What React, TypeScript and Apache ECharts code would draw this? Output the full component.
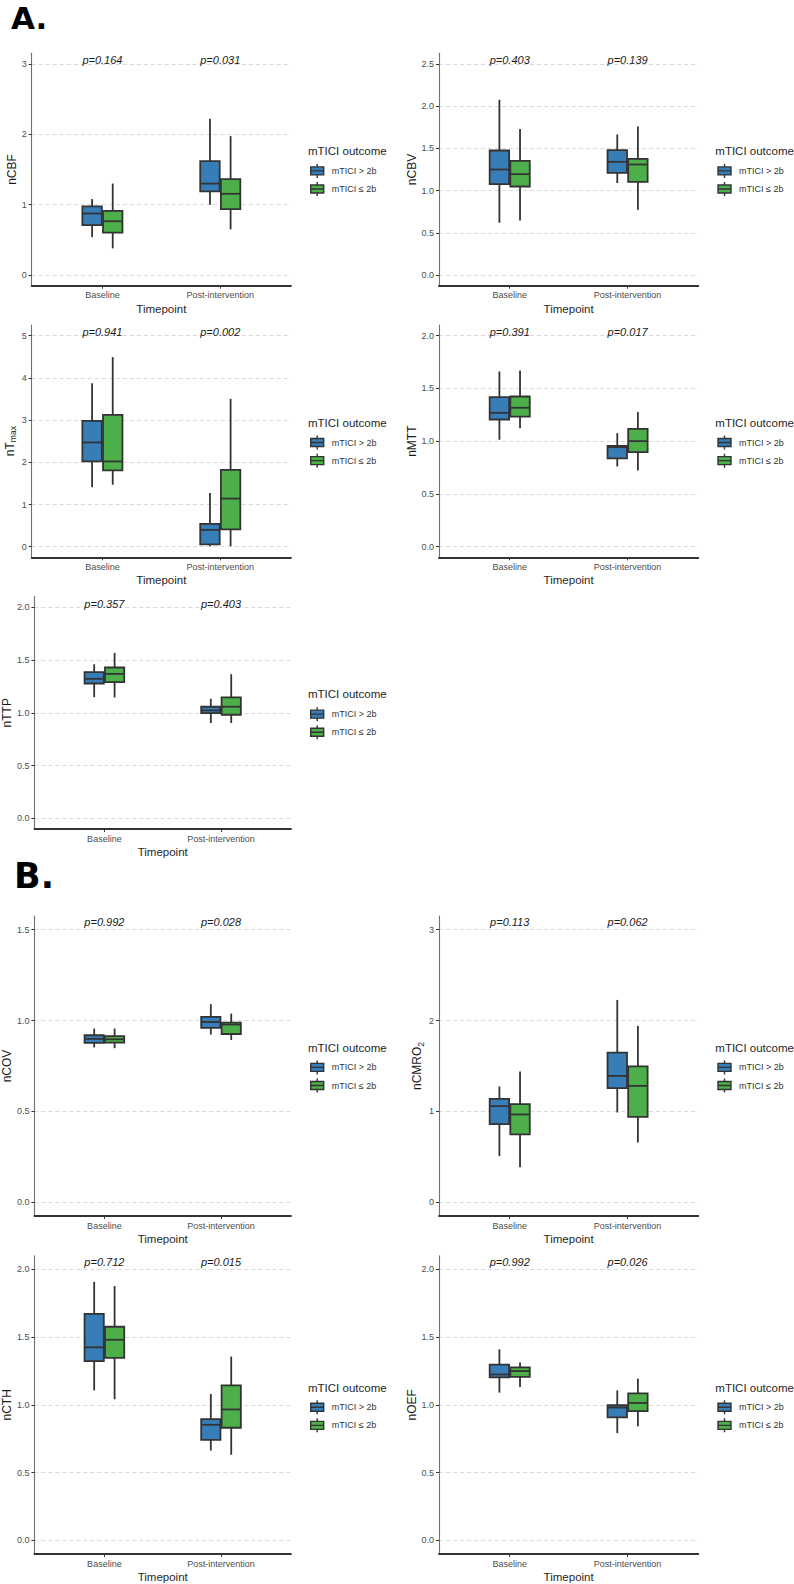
import React, { useEffect, useRef } from "react";
import * as echarts from "echarts";

// ---------- data ----------
const categories = ["Baseline", "Post-intervention"];
const groupNames = ["mTICI > 2b", "mTICI \u2264 2b"];
const groupColors = ["#377EB8", "#4DAF4A"];

// each box: [whiskerLow, Q1, median, Q3, whiskerHigh]; first Baseline, then Post-intervention
const nCBF_hi = [[0.54, 0.71, 0.875, 0.975, 1.08], [1.0, 1.19, 1.3, 1.62, 2.22]];
const nCBF_lo = [[0.38, 0.605, 0.765, 0.913, 1.3], [0.65, 0.937, 1.155, 1.364, 1.974]];
const nCBV_hi = [[0.62, 1.077, 1.25, 1.475, 2.075], [1.09, 1.211, 1.341, 1.479, 1.664]];
const nCBV_lo = [[0.646, 1.049, 1.195, 1.353, 1.728], [0.773, 1.104, 1.309, 1.376, 1.759]];
const nTmax_hi = [[1.41, 2.02, 2.47, 2.98, 3.87], [0.01, 0.055, 0.4, 0.54, 1.27]];
const nTmax_lo = [[1.47, 1.81, 2.02, 3.12, 4.49], [0.01, 0.41, 1.14, 1.82, 3.5]];
const nMTT_hi = [[1.013, 1.205, 1.268, 1.417, 1.66], [0.76, 0.836, 0.943, 0.956, 1.076]];
const nMTT_lo = [[1.123, 1.233, 1.316, 1.423, 1.669], [0.722, 0.896, 1.0, 1.117, 1.275]];
const nTTP_hi = [[1.148, 1.277, 1.321, 1.384, 1.459], [0.903, 0.997, 1.022, 1.057, 1.132]];
const nTTP_lo = [[1.145, 1.29, 1.368, 1.428, 1.566], [0.903, 0.981, 1.057, 1.145, 1.365]];
const nCOV_hi = [[0.852, 0.877, 0.899, 0.919, 0.956], [0.923, 0.96, 0.992, 1.02, 1.09]];
const nCOV_lo = [[0.848, 0.879, 0.897, 0.914, 0.956], [0.893, 0.926, 0.978, 0.989, 1.038]];
const nCMRO2_hi = [[0.509, 0.86, 1.058, 1.139, 1.275], [0.989, 1.256, 1.391, 1.648, 2.227]];
const nCMRO2_lo = [[0.385, 0.747, 0.967, 1.08, 1.44], [0.659, 0.941, 1.281, 1.495, 1.941]];
const nCTH_hi = [[1.107, 1.322, 1.424, 1.671, 1.907], [0.663, 0.741, 0.853, 0.895, 1.08]];
const nCTH_lo = [[1.041, 1.346, 1.48, 1.576, 1.876], [0.632, 0.831, 0.966, 1.144, 1.356]];
const nOEF_hi = [[1.09, 1.202, 1.224, 1.297, 1.41], [0.792, 0.907, 0.98, 0.997, 1.107]];
const nOEF_lo = [[1.131, 1.207, 1.249, 1.276, 1.312], [0.842, 0.953, 1.014, 1.085, 1.193]];

// p-values (Baseline, Post-intervention)
const p_nCBF = [0.164, 0.031];
const p_nCBV = [0.403, 0.139];
const p_nTmax = [0.941, 0.002];
const p_nMTT = [0.391, 0.017];
const p_nTTP = [0.357, 0.403];
const p_nCOV = [0.992, 0.028];
const p_nCMRO2 = [0.113, 0.062];
const p_nCTH = [0.712, 0.015];
const p_nOEF = [0.992, 0.026];

// y tick labels
const ticks_nCBF = [0, 1, 2, 3];
const ticks_nCBV = [0, 0.5, 1, 1.5, 2, 2.5];
const ticks_nTmax = [0, 1, 2, 3, 4, 5];
const ticks_nMTT = [0, 0.5, 1, 1.5, 2];
const ticks_nTTP = [0, 0.5, 1, 1.5, 2];
const ticks_nCOV = [0, 0.5, 1, 1.5];
const ticks_nCMRO2 = [0, 1, 2, 3];
const ticks_nCTH = [0, 0.5, 1, 1.5, 2];
const ticks_nOEF = [0, 0.5, 1, 1.5, 2];

// ---------- layout ----------
const FONT = "'Liberation Sans', Arial, sans-serif";
const COLS = [{ left: 31.7, width: 259.3 }, { left: 439, width: 259.3 }];
const ROWS = [
  { top: 53.3, height: 232.4, pDy: -3.5 },
  { top: 325, height: 232.3, pDy: -3.5 },
  { top: 596.5, height: 232.5, pDy: -3.5 },
  { top: 916, height: 300, pDy: -7.3 },
  { top: 1255.7, height: 300.3, pDy: -7.3 },
];

const panels = [
  { name: "nCBF", row: 0, col: 0, hi: nCBF_hi, lo: nCBF_lo, p: p_nCBF, ticks: ticks_nCBF, dec: 0 },
  { name: "nCBV", row: 0, col: 1, hi: nCBV_hi, lo: nCBV_lo, p: p_nCBV, ticks: ticks_nCBV, dec: 1 },
  { name: "{a|nT}{b|max}", row: 1, col: 0, hi: nTmax_hi, lo: nTmax_lo, p: p_nTmax, ticks: ticks_nTmax, dec: 0 },
  { name: "nMTT", row: 1, col: 1, hi: nMTT_hi, lo: nMTT_lo, p: p_nMTT, ticks: ticks_nMTT, dec: 1 },
  { name: "nTTP", row: 2, col: 0, hi: nTTP_hi, lo: nTTP_lo, p: p_nTTP, ticks: ticks_nTTP, dec: 1 },
  { name: "nCOV", row: 3, col: 0, hi: nCOV_hi, lo: nCOV_lo, p: p_nCOV, ticks: ticks_nCOV, dec: 1 },
  { name: "{a|nCMRO}{b|2}", row: 3, col: 1, hi: nCMRO2_hi, lo: nCMRO2_lo, p: p_nCMRO2, ticks: ticks_nCMRO2, dec: 0 },
  { name: "nCTH", row: 4, col: 0, hi: nCTH_hi, lo: nCTH_lo, p: p_nCTH, ticks: ticks_nCTH, dec: 1 },
  { name: "nOEF", row: 4, col: 1, hi: nOEF_hi, lo: nOEF_lo, p: p_nOEF, ticks: ticks_nOEF, dec: 1 },
];

const BOX_W = 0.165;
const DODGE = 0.0875;
const LW = 1.8;
const EDGE = "#333333";
const LEGEND_ICON = "path://M0,3H13V11H0Z M0,7H13 M6.5,0V3 M6.5,11V14";

function boxRenderer(offset: number, color: string) {
  return (params: any, api: any) => {
    const x = api.value(0);
    const v = [1, 2, 3, 4, 5].map((i) => api.value(i));
    const cx = api.coord([x + offset, v[2]])[0];
    const half = api.size([BOX_W, 0])[0] / 2;
    const y = v.map((val) => api.coord([x, val])[1]);
    const ls = { stroke: EDGE, lineWidth: LW };
    return {
      type: "group",
      children: [
        { type: "line", shape: { x1: cx, y1: y[4], x2: cx, y2: y[3] }, style: ls },
        { type: "line", shape: { x1: cx, y1: y[1], x2: cx, y2: y[0] }, style: ls },
        {
          type: "rect",
          shape: { x: cx - half, y: y[3], width: 2 * half, height: y[1] - y[3] },
          style: { fill: color, stroke: EDGE, lineWidth: LW },
        },
        { type: "line", shape: { x1: cx - half, y1: y[2], x2: cx + half, y2: y[2] }, style: ls },
      ],
    };
  };
}

function buildOption() {
  const grid: any[] = [];
  const xAxis: any[] = [];
  const yAxis: any[] = [];
  const series: any[] = [];
  const legend: any[] = [];
  const graphic: any[] = [
    {
      type: "text", x: 11, y: 18,
      style: { text: "A.", fontSize: 31, fontWeight: "bold", fontFamily: "'DejaVu Sans'", fill: "#000", verticalAlign: "middle" },
    },
    {
      type: "text", x: 14, y: 876,
      style: { text: "B.", fontSize: 35, fontWeight: "bold", fontFamily: "'DejaVu Sans'", fill: "#000", verticalAlign: "middle" },
    },
  ];

  panels.forEach((pn, i) => {
    const c = COLS[pn.col];
    const r = ROWS[pn.row];
    const top = pn.ticks[pn.ticks.length - 1];
    grid.push({ left: c.left, top: r.top, width: c.width, height: r.height, containLabel: false });
    xAxis.push({
      type: "value",
      gridIndex: i,
      min: 0.4,
      max: 2.6,
      axisLine: { show: true, onZero: false, lineStyle: { color: "#333", width: 1.8 } },
      axisTick: { show: true, length: 3, customValues: [1, 2], lineStyle: { color: "#333", width: 1 } },
      axisLabel: {
        customValues: [1, 2],
        formatter: (v: number) => categories[Math.round(v) - 1],
        fontSize: 9, color: "#4d4d4d", margin: 5, fontFamily: FONT,
      },
      splitLine: { show: false },
      name: "Timepoint",
      nameLocation: "middle",
      nameGap: 17,
      nameTextStyle: { fontSize: 11.5, color: "#262626", fontWeight: "normal", fontFamily: FONT },
    });
    yAxis.push({
      type: "value",
      gridIndex: i,
      min: -0.05 * top,
      max: 1.05 * top,
      axisLine: { show: true, onZero: false, lineStyle: { color: "#707070", width: 1.1 } },
      axisTick: { show: true, length: 3, customValues: pn.ticks, lineStyle: { color: "#333", width: 1 } },
      axisLabel: {
        customValues: pn.ticks,
        formatter: (v: number) => v.toFixed(pn.dec),
        fontSize: 9, color: "#4d4d4d", margin: 5, fontFamily: FONT,
      },
      splitLine: { show: true, lineStyle: { color: "#d9d9d9", width: 1, type: [4, 3] } },
      name: pn.name,
      nameLocation: "middle",
      nameGap: pn.dec ? 20 : 12.5,
      nameTextStyle: {
        fontSize: 12, color: "#1a1a1a", fontWeight: "normal", fontFamily: FONT,
        rich: {
          a: { fontSize: 12, color: "#1a1a1a", fontWeight: "normal", fontFamily: FONT },
          b: { fontSize: 8.5, color: "#1a1a1a", fontWeight: "normal", fontFamily: FONT, padding: [7, 0, 0, 0] },
        },
      },
    });
    [pn.hi, pn.lo].forEach((boxes, g) => {
      series.push({
        type: "custom",
        name: groupNames[g],
        xAxisIndex: i,
        yAxisIndex: i,
        itemStyle: { color: groupColors[g] },
        encode: { x: 0, y: [1, 2, 3, 4, 5] },
        renderItem: boxRenderer(g === 0 ? -DODGE : DODGE, groupColors[g]),
        data: boxes.map((b, k) => [k + 1, ...b]),
        silent: true,
      });
    });
    series.push({
      type: "custom",
      name: "pvalues" + i,
      xAxisIndex: i,
      yAxisIndex: i,
      encode: { x: 0, y: 1 },
      renderItem: (params: any, api: any) => {
        const pt = api.coord([api.value(0), api.value(1)]);
        return {
          type: "text",
          x: pt[0],
          y: pt[1] + r.pDy,
          style: {
            text: "p=" + pn.p[params.dataIndex].toFixed(3),
            align: "center",
            verticalAlign: "middle",
            fontSize: 11,
            fontStyle: "italic",
            fontWeight: "normal",
            fontFamily: FONT,
            fill: "#1a1a1a",
          },
        };
      },
      data: pn.p.map((_, k) => [k + 1, top]),
      silent: true,
    });
    const right = c.left + c.width;
    const titleY = r.top + r.height / 2 - 18.3;
    graphic.push({
      type: "text",
      x: right + 17,
      y: titleY,
      style: {
        text: "mTICI outcome", fontSize: 11.5, fontWeight: "normal", fontFamily: FONT,
        fill: "#262626", verticalAlign: "middle",
      },
    });
    legend.push({
      orient: "vertical",
      left: right + 19,
      top: titleY + 12,
      padding: 0,
      itemWidth: 13,
      itemHeight: 14,
      itemGap: 2.7,
      icon: LEGEND_ICON,
      selectedMode: false,
      data: groupNames,
      itemStyle: { borderColor: EDGE, borderWidth: 1.4 },
      textStyle: { fontSize: 9, color: "#333", fontWeight: "normal", fontFamily: FONT, padding: [0, 0, 0, 3] },
    });
  });

  return {
    animation: false,
    backgroundColor: "#ffffff",
    grid,
    xAxis,
    yAxis,
    series,
    legend,
    graphic,
  };
}

export default function App() {
  const ref = useRef<HTMLDivElement>(null);
  useEffect(() => {
    if (!ref.current) return;
    const chart = echarts.init(ref.current, null, { renderer: "svg" });
    chart.setOption(buildOption() as any);
    return () => chart.dispose();
  }, []);
  return (
    <div
      ref={ref}
      style={{ position: "absolute", left: 0, top: 0, width: 794, height: 1584, background: "#fff" }}
    />
  );
}
